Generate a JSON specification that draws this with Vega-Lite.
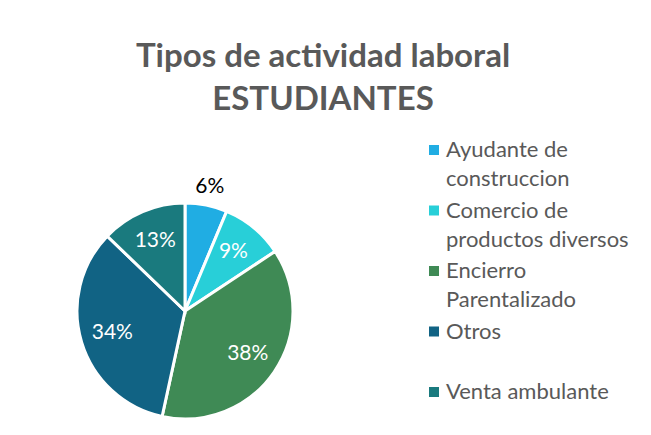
{
  "$schema": "https://vega.github.io/schema/vega-lite/v6.json",
  "autosize": "none",
  "padding": {"left": 7, "top": 10, "right": 0, "bottom": 0},
  "width": 700,
  "height": 500,
  "background": "white",
  "config": {
    "view": {"stroke": "#d9d9d9", "strokeWidth": 1.5},
    "font": "Lato",
    "style": {"guide-label": {"lineHeight": 29}}
  },
  "title": {
    "text": ["Tipos de actividad laboral", "ESTUDIANTES"],
    "anchor": "middle",
    "frame": "group",
    "orient": "top",
    "baseline": "top",
    "dx": -34,
    "dy": 97,
    "offset": -10,
    "fontSize": 33,
    "fontWeight": "bold",
    "color": "#595959",
    "font": "Lato",
    "lineHeight": 43
  },
  "data": {
    "values": [
      {"tipo": "Ayudante de construccion", "pct": 0.063},
      {"tipo": "Comercio de productos diversos", "pct": 0.094},
      {"tipo": "Encierro Parentalizado", "pct": 0.377},
      {"tipo": "Otros", "pct": 0.338},
      {"tipo": "Venta ambulante", "pct": 0.128}
    ]
  },
  "encoding": {
    "theta": {"field": "pct", "type": "quantitative", "stack": true},
    "order": {"field": "tipo", "type": "ordinal", "sort": "ascending"},
    "color": {
      "field": "tipo",
      "type": "nominal",
      "scale": {
        "domain": ["Ayudante de construccion", "Comercio de productos diversos", "Encierro Parentalizado", "Otros", "Venta ambulante"],
        "range": ["#20ADE3", "#28CFD8", "#3F8A55", "#116384", "#1A7A7E"]
      },
      "legend": {
        "title": null,
        "orient": "none",
        "legendX": 416,
        "legendY": 129,
        "symbolType": "square",
        "symbolSize": 100,
        "symbolStrokeWidth": 0,
        "labelFontSize": 22,
        "labelColor": "#595959",
        "labelFont": "Lato",
        "labelLimit": 300,
        "labelBaseline": "middle",
        "labelOffset": 1,
        "rowPadding": 9.5,
        "labelExpr": "datum.label == 'Ayudante de construccion' ? ['Ayudante de', 'construccion'] : datum.label == 'Comercio de productos diversos' ? ['Comercio de', 'productos diversos'] : datum.label == 'Encierro Parentalizado' ? ['Encierro', 'Parentalizado'] : [datum.label, ' ']"
      }
    }
  },
  "layer": [
    {
      "mark": {"type": "arc", "outerRadius": 108, "stroke": "white", "strokeWidth": 3, "x": 178, "y": 301}
    },
    {
      "mark": {"type": "text", "radius": 76, "x": 178, "y": 301, "fontSize": 21, "font": "Lato"},
      "encoding": {
        "text": {"condition": {"test": "datum.tipo == 'Ayudante de construccion'", "value": ""}, "field": "pct", "type": "quantitative", "format": ".0%"},
        "color": {"value": "white"}
      }
    },
    {
      "mark": {"type": "text", "radius": 126, "x": 178, "y": 301, "fontSize": 21, "font": "Lato"},
      "encoding": {
        "text": {"condition": {"test": "datum.tipo != 'Ayudante de construccion'", "value": ""}, "field": "pct", "type": "quantitative", "format": ".0%"},
        "color": {"value": "black"}
      }
    }
  ]
}
